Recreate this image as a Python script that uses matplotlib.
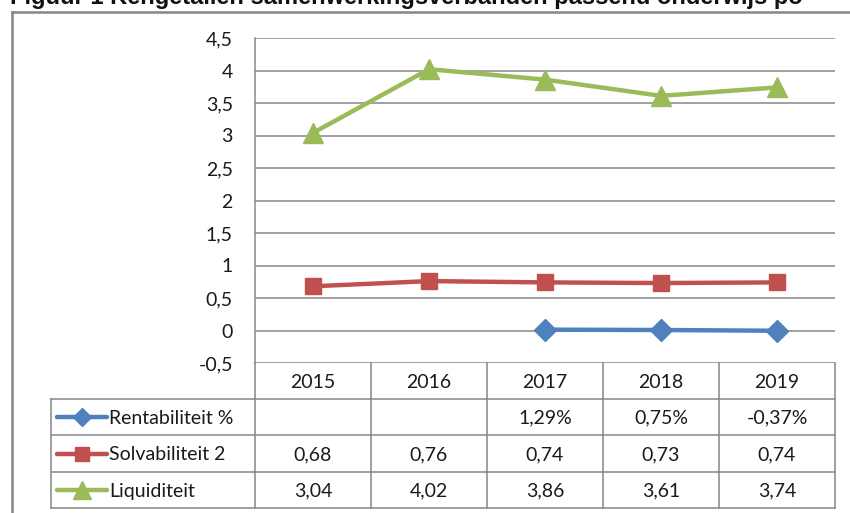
import numpy as np
import matplotlib
matplotlib.use('Agg')
import matplotlib.pyplot as plt

# Chart data
years = ['2015', '2016', '2017', '2018', '2019']
rentabiliteit = [np.nan, np.nan, 0.0129, 0.0075, -0.0037]
solvabiliteit = [0.68, 0.76, 0.74, 0.73, 0.74]
liquiditeit = [3.04, 4.02, 3.86, 3.61, 3.74]
y_ticks = [-0.5, 0, 0.5, 1, 1.5, 2, 2.5, 3, 3.5, 4, 4.5]

series_names = ['Rentabiliteit %', 'Solvabiliteit 2', 'Liquiditeit']
title = 'Figuur 1 Kengetallen samenwerkingsverbanden passend onderwijs po'

plt.rcParams['font.family'] = ['Lato', 'DejaVu Sans']

W, H = 850, 513
fig = plt.figure(figsize=(W / 100, H / 100), dpi=100)
grid_col = '#868686'
text_col = '#1a1a1a'
fs = 14

# plot area in pixels
px_left, px_right, px_top, px_bottom = 255, 835, 38, 363
ax = fig.add_axes([px_left / W, 1 - px_bottom / H,
                   (px_right - px_left) / W, (px_bottom - px_top) / H])

x = np.arange(len(years))
styles = [
    dict(color='#4F81BD', marker='D', markersize=11),
    dict(color='#C0504D', marker='s', markersize=12),
    dict(color='#9BBB59', marker='^', markersize=15),
]
series = [rentabiliteit, solvabiliteit, liquiditeit]
for vals, st in zip(series, styles):
    ax.plot(x, vals, linewidth=3.2, solid_capstyle='round', zorder=3, **st)

ax.set_xlim(-0.5, len(years) - 0.5)
ax.set_ylim(y_ticks[0], y_ticks[-1])
ax.set_yticks(y_ticks)
ax.set_yticklabels([('%g' % t).replace('.', ',') for t in y_ticks],
                   fontsize=fs, color=text_col)
ax.tick_params(axis='y', length=0, pad=16)
ax.set_xticks([])
for t in y_ticks:
    ax.axhline(t, color=grid_col, linewidth=1.1, zorder=1)
for s in ['top', 'right', 'bottom']:
    ax.spines[s].set_visible(False)
ax.spines['left'].set_color(grid_col)
ax.spines['left'].set_linewidth(1.1)

# overlay in pixel coordinates for data table and frame
ov = fig.add_axes([0, 0, 1, 1], zorder=5)
ov.set_xlim(0, W)
ov.set_ylim(H, 0)
ov.axis('off')
ov.patch.set_alpha(0)

col_w = (px_right - px_left) / len(years)
row_tops = [363, 399, 435, 472, 508]
legend_left = 51
lw = 1.1

# vertical lines
for i in range(len(years) + 1):
    xx = px_left + i * col_w
    ov.plot([xx, xx], [row_tops[0], row_tops[-1]], color=grid_col, lw=lw)
ov.plot([legend_left, legend_left], [row_tops[1], row_tops[-1]], color=grid_col, lw=lw)
# horizontal lines
for yy in row_tops[1:]:
    ov.plot([legend_left, px_right], [yy, yy], color=grid_col, lw=lw)

# header years
for i, yr in enumerate(years):
    ov.text(px_left + (i + 0.5) * col_w, (row_tops[0] + row_tops[1]) / 2 + 1, yr,
            ha='center', va='center', fontsize=fs, color=text_col)

def fmt(v, pct):
    if np.isnan(v):
        return ''
    if pct:
        return ('%.2f%%' % (v * 100)).replace('.', ',')
    return ('%.2f' % v).replace('.', ',')

for r, (name, vals, st) in enumerate(zip(series_names, series, styles)):
    yc = (row_tops[r + 1] + row_tops[r + 2]) / 2
    ov.plot([57, 107], [yc, yc], color=st['color'], lw=3.2, solid_capstyle='round')
    ov.plot([82], [yc], color=st['color'], marker=st['marker'],
            markersize=st['markersize'] * 0.85, linestyle='none')
    ov.text(109, yc + 1, name, ha='left', va='center', fontsize=fs, color=text_col)
    for i, v in enumerate(vals):
        ov.text(px_left + (i + 0.5) * col_w, yc + 1, fmt(v, r == 0),
                ha='center', va='center', fontsize=fs, color=text_col)

# outer chart frame
ov.plot([12, 12], [12, H], color=grid_col, lw=1.8)
ov.plot([12, W], [12, 12], color=grid_col, lw=1.8)

# title, cut off at top of image as in the source
ov.text(10, 4, title, ha='left', va='baseline', fontsize=17, fontweight='bold',
        family=['Liberation Sans Narrow', 'Liberation Sans'], color='#111111')

fig.savefig('out.png', dpi=100)
